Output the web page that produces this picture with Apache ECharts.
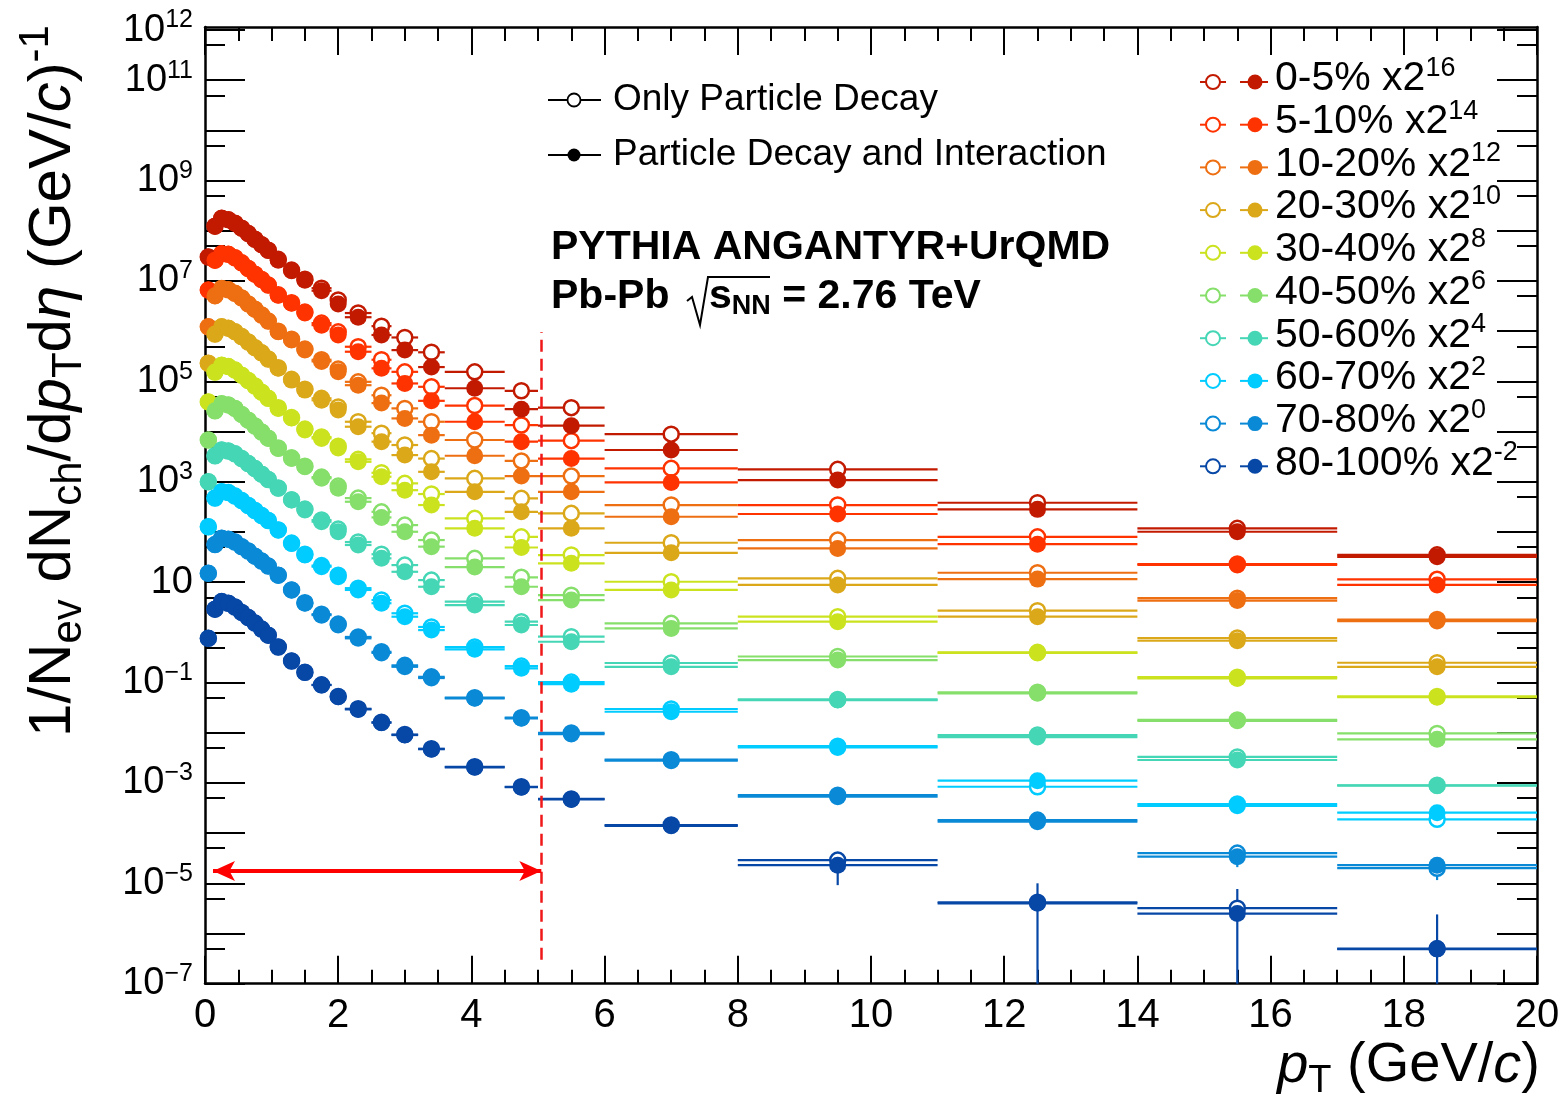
<!DOCTYPE html>
<html style="height: 100%">

<head>
    <meta charset="utf-8">
    <script src="https://cdn.jsdelivr.net/npm/echarts@6.0.0/dist/echarts.min.js"></script>
</head>

<body style="height: 100%; margin: 0; background: #ffffff">
    <div id="main" style="width: 1562px; height: 1106px;"></div>
    <script type="text/javascript">
    // pT bins (GeV/c)
    var ptLow  = [0, 0.1, 0.2, 0.3, 0.4, 0.5, 0.6, 0.7, 0.8, 0.9, 1.0, 1.2, 1.4, 1.6, 1.9, 2.1, 2.5, 2.8, 3.2, 3.6, 4.5, 5, 6, 8, 11, 14, 17];
    var ptHigh = [0.1, 0.2, 0.3, 0.4, 0.5, 0.6, 0.7, 0.8, 0.9, 1.0, 1.2, 1.4, 1.6, 1.9, 2.1, 2.5, 2.8, 3.2, 3.6, 4.5, 5, 6, 8, 11, 14, 17, 20];
    var ptMid  = [0.05, 0.15, 0.25, 0.35, 0.45, 0.55, 0.65, 0.75, 0.85, 0.95, 1.1, 1.3, 1.5, 1.75, 2.0, 2.3, 2.65, 3.0, 3.4, 4.05, 4.75, 5.5, 7, 9.5, 12.5, 15.5, 18.5];

    var centLabels = ['0-5%', '5-10%', '10-20%', '20-30%', '30-40%', '40-50%', '50-60%', '60-70%', '70-80%', '80-100%'];
    var scalePow   = ['16', '14', '12', '10', '8', '6', '4', '2', '0', '-2'];
    var colors     = ['#c21a00', '#ff3300', '#ee6f12', '#dba81a', '#cbe31f', '#86df6a', '#45d6b5', '#00ccff', '#0a8ad6', '#0747a6'];

    // Only Particle Decay (open markers), already scaled
    var decay_0_5    = [3.0e7, 1.24e8, 1.77e8, 1.67e8, 1.42e8, 1.13e8, 8.8e7, 6.8e7, 5.3e7, 4.1e7, 2.7e7, 1.65e7, 1.09e7, 7.2e6, 4.2e6, 2.3e6, 1.26e6, 7.5e5, 3.8e5, 1.55e5, 6.5e4, 3.0e4, 8.9e3, 1.77e3, 382, 118, 35];
    var decay_5_10   = [6.6e6, 2.6e7, 3.5e7, 3.4e7, 2.9e7, 2.3e7, 1.77e7, 1.37e7, 1.07e7, 8.3e6, 5.3e6, 3.7e6, 2.4e6, 1.45e6, 9.7e5, 4.9e5, 2.7e5, 1.55e5, 7.8e4, 3.3e4, 1.35e4, 6.6e3, 1.85e3, 344, 80, 23, 11.4];
    var decay_10_20  = [1.22e6, 5.1e6, 7.1e6, 6.7e6, 5.7e6, 4.6e6, 3.5e6, 2.75e6, 2.1e6, 1.59e6, 1.0e6, 6.9e5, 4.4e5, 2.7e5, 1.76e5, 9.8e4, 5.3e4, 2.9e4, 1.57e4, 6.8e3, 2.6e3, 1.3e3, 344, 69, 15.4, 4.8, 1.8];
    var decay_20_30  = [2.3e5, 8.8e5, 1.22e6, 1.15e6, 9.8e5, 7.8e5, 6.1e5, 4.7e5, 3.7e5, 2.8e5, 1.88e5, 1.1e5, 7.0e4, 4.6e4, 3.1e4, 1.57e4, 9.3e3, 5.4e3, 2.9e3, 1.17e3, 467, 235, 61, 11.9, 2.7, 0.77, 0.248];
    var decay_30_40  = [3.9e4, 1.53e5, 2.1e5, 1.97e5, 1.68e5, 1.33e5, 1.04e5, 8.1e4, 6.1e4, 4.6e4, 3.0e4, 1.9e4, 1.12e4, 7.8e3, 5.1e3, 2.8e3, 1.51e3, 930, 570, 187, 80, 34.7, 10.2, 2.05, 0.40, 0.128, 0.053];
    var decay_40_50  = [6.8e3, 2.6e4, 3.6e4, 3.4e4, 2.9e4, 2.2e4, 1.69e4, 1.29e4, 9.8e3, 7.4e3, 4.7e3, 3.0e3, 2.05e3, 1.24e3, 820, 473, 252, 137, 69, 29.8, 12.5, 5.5, 1.51, 0.33, 0.064, 0.018, 0.0097];
    var decay_50_60  = [1.0e3, 3.3e3, 4.3e3, 4.1e3, 3.6e3, 2.9e3, 2.3e3, 1.83e3, 1.42e3, 1.11e3, 750, 440, 286, 173, 114, 63, 36, 21.9, 11.0, 4.1, 1.63, 0.82, 0.245, 0.046, 0.0090, 0.0033, 9.0e-4];
    var decay_60_70  = [127, 473, 632, 610, 519, 422, 336, 267, 212, 169, 110, 60, 36, 21.4, 13.8, 7.6, 4.4, 2.4, 1.28, 0.51, 0.213, 0.102, 0.0297, 0.0054, 8.4e-4, 3.8e-4, 1.88e-4];
    var decay_70_80  = [15.0, 56, 75, 72, 63, 51, 41.7, 33, 26.3, 20.9, 13.8, 7.0, 3.9, 2.3, 1.46, 0.81, 0.41, 0.22, 0.13, 0.05, 0.020, 0.0099, 0.0029, 5.7e-4, 1.82e-4, 4.0e-5, 2.0e-5];
    var decay_80_100 = [0.76, 2.9, 4.1, 3.8, 3.2, 2.5, 1.97, 1.53, 1.16, 0.88, 0.51, 0.268, 0.16, 0.09, 0.053, 0.03, 0.0162, 0.0092, 0.0048, 0.0021, 8.4e-4, 4.8e-4, 1.45e-4, 2.9e-5, 4.2e-6, 3.2e-6, 5.0e-7];

    // Particle Decay and Interaction (filled markers), already scaled
    var inter_0_5    = [3.0e7, 1.24e8, 1.77e8, 1.67e8, 1.42e8, 1.13e8, 8.8e7, 6.8e7, 5.3e7, 4.1e7, 2.6e7, 1.6e7, 1.04e7, 6.4e6, 3.5e6, 1.9e6, 8.4e5, 4.2e5, 1.93e5, 7.3e4, 2.8e4, 1.31e4, 4.3e3, 1.08e3, 282, 101, 32];
    var inter_5_10   = [6.6e6, 2.6e7, 3.5e7, 3.4e7, 2.9e7, 2.3e7, 1.77e7, 1.37e7, 1.07e7, 8.3e6, 5.2e6, 3.6e6, 2.3e6, 1.32e6, 8.4e5, 3.9e5, 1.82e5, 9.1e4, 4.1e4, 1.57e4, 6.3e3, 2.9e3, 970, 228, 57, 22, 8.8];
    var inter_10_20  = [1.22e6, 5.1e6, 7.1e6, 6.7e6, 5.7e6, 4.6e6, 3.5e6, 2.75e6, 2.1e6, 1.59e6, 9.7e5, 6.7e5, 4.2e5, 2.5e5, 1.55e5, 8.4e4, 3.7e4, 1.83e4, 8.5e3, 3.3e3, 1.3e3, 630, 201, 47, 11.5, 4.3, 1.68];
    var inter_20_30  = [2.3e5, 8.8e5, 1.22e6, 1.15e6, 9.8e5, 7.8e5, 6.1e5, 4.7e5, 3.7e5, 2.8e5, 1.82e5, 1.06e5, 6.7e4, 4.2e4, 2.7e4, 1.25e4, 6.3e3, 3.4e3, 1.58e3, 630, 252, 118, 38.5, 8.8, 2.05, 0.68, 0.206];
    var inter_30_40  = [3.9e4, 1.53e5, 2.1e5, 1.97e5, 1.68e5, 1.33e5, 1.04e5, 8.1e4, 6.1e4, 4.6e4, 2.9e4, 1.86e4, 1.07e4, 7.3e3, 4.7e3, 2.5e3, 1.26e3, 680, 344, 118, 49, 23.7, 7.0, 1.63, 0.39, 0.121, 0.051];
    var inter_40_50  = [6.8e3, 2.6e4, 3.6e4, 3.4e4, 2.9e4, 2.2e4, 1.69e4, 1.29e4, 9.8e3, 7.4e3, 4.6e3, 2.9e3, 1.99e3, 1.17e3, 740, 400, 195, 101, 51, 20, 8.1, 4.4, 1.2, 0.28, 0.061, 0.0173, 0.0074];
    var inter_50_60  = [1.0e3, 3.3e3, 4.3e3, 4.1e3, 3.6e3, 2.9e3, 2.3e3, 1.83e3, 1.42e3, 1.11e3, 740, 432, 273, 160, 101, 55, 29.8, 16.1, 8.1, 3.5, 1.40, 0.65, 0.206, 0.0448, 0.0082, 0.00286, 8.8e-4];
    var inter_60_70  = [127, 473, 632, 610, 519, 422, 336, 267, 212, 169, 109, 59, 34.7, 20.3, 12.8, 7.0, 3.8, 2.05, 1.11, 0.46, 0.192, 0.093, 0.0262, 0.0051, 0.00111, 3.5e-4, 2.55e-4];
    var inter_70_80  = [15.0, 56, 75, 72, 63, 51, 41.7, 33, 26.3, 20.9, 13.8, 7.0, 3.8, 2.2, 1.40, 0.76, 0.39, 0.206, 0.123, 0.0484, 0.0194, 0.0094, 0.00277, 5.3e-4, 1.69e-4, 3.4e-5, 2.3e-5];
    var inter_80_100 = [0.76, 2.9, 4.1, 3.8, 3.2, 2.5, 1.97, 1.53, 1.16, 0.88, 0.51, 0.268, 0.158, 0.089, 0.052, 0.0292, 0.0158, 0.0090, 0.0047, 0.00205, 8.2e-4, 4.7e-4, 1.40e-4, 2.3e-5, 4.0e-6, 2.5e-6, 4.9e-7];

    // vertical stat. errors that stick out of the markers: [pT, low, high]
    var errInter_80_100 = [[9.5, 9.2e-6, 3.6e-5], [12.5, 1e-7, 1.0e-5], [15.5, 1e-7, 7.7e-6], [18.5, 1e-7, 2.4e-6]];
    var errDecay_70_80  = [[15.5, 2.1e-5, 4.0e-5], [18.5, 1.16e-5, 2.0e-5]];

    // axis ticks / labels
    var yDecades = [1e-7, 1e-6, 1e-5, 1e-4, 1e-3, 1e-2, 1e-1, 1, 10, 1e2, 1e3, 1e4, 1e5, 1e6, 1e7, 1e8, 1e9, 1e10, 1e11, 1e12];
    var yHalves  = [5e-7, 5e-6, 5e-5, 5e-4, 5e-3, 5e-2, 0.5, 5, 50, 5e2, 5e3, 5e4, 5e5, 5e6, 5e7, 5e8, 5e9, 5e10, 5e11];
    var yLabelValues = [1e-7, 1e-5, 1e-3, 1e-1, 10, 1e3, 1e5, 1e7, 1e9, 1e11, 1e12];

    // annotations (data units)
    var cutPt = 5.05;
    var cutYRange = [3.0e-7, 9.6e5];
    var arrowY = 1.76e-5;
    var arrowPt = [0.12, 5.05];

    var decaySets = [decay_0_5, decay_5_10, decay_10_20, decay_20_30, decay_30_40, decay_40_50, decay_50_60, decay_60_70, decay_70_80, decay_80_100];
    var interSets = [inter_0_5, inter_5_10, inter_10_20, inter_20_30, inter_30_40, inter_40_50, inter_50_60, inter_60_70, inter_70_80, inter_80_100];

    var FONT = '"Liberation Sans", Arial, Helvetica, sans-serif';

    var myChart = echarts.init(document.getElementById('main'));

    function binBars(vals, color) {
        return {
            type: 'custom',
            z: 1,
            silent: true,
            data: vals.map(function (v, i) { return [ptLow[i], ptHigh[i], v]; }),
            encode: { x: [0, 1], y: 2 },
            renderItem: function (params, api) {
                var a = api.coord([api.value(0), api.value(2)]);
                var b = api.coord([api.value(1), api.value(2)]);
                return {
                    type: 'line',
                    shape: { x1: a[0], y1: a[1], x2: b[0], y2: b[1] },
                    style: { stroke: color, lineWidth: 2.2 }
                };
            }
        };
    }

    function errBars(list, color) {
        return {
            type: 'custom',
            z: 1,
            silent: true,
            data: list,
            encode: { x: 0, y: [1, 2] },
            renderItem: function (params, api) {
                var a = api.coord([api.value(0), api.value(1)]);
                var b = api.coord([api.value(0), api.value(2)]);
                return {
                    type: 'line',
                    shape: { x1: a[0], y1: a[1], x2: b[0], y2: b[1] },
                    style: { stroke: color, lineWidth: 2.2 }
                };
            }
        };
    }

    var series = [];
    for (var k = 0; k < centLabels.length; k++) {
        series.push(binBars(decaySets[k], colors[k]));
        series.push(binBars(interSets[k], colors[k]));
    }
    series.push(errBars(errInter_80_100, colors[9]));
    series.push(errBars(errDecay_70_80, colors[8]));
    for (var k = 0; k < centLabels.length; k++) {
        series.push({
            name: centLabels[k] + ' decay',
            type: 'scatter',
            z: 2,
            silent: true,
            symbol: 'circle',
            symbolSize: 15,
            data: decaySets[k].map(function (v, i) { return [ptMid[i], v]; }),
            itemStyle: { color: '#ffffff', borderColor: colors[k], borderWidth: 2.5, opacity: 1 }
        });
    }
    for (var k = 0; k < centLabels.length; k++) {
        series.push({
            name: centLabels[k] + ' decay+interaction',
            type: 'scatter',
            z: 3,
            silent: true,
            symbol: 'circle',
            symbolSize: 17,
            data: interSets[k].map(function (v, i) { return [ptMid[i], v]; }),
            itemStyle: { color: colors[k], opacity: 1 }
        });
    }
    // red cut line and arrow
    series.push({
        type: 'scatter',
        z: 4,
        silent: true,
        data: [],
        markLine: {
            silent: true,
            animation: false,
            symbol: ['none', 'none'],
            label: { show: false },
            emphasis: { disabled: true },
            data: [
                [
                    { coord: [cutPt, cutYRange[0]], lineStyle: { color: '#f01818', width: 2.5, type: [12, 7] } },
                    { coord: [cutPt, cutYRange[1]] }
                ],
                [
                    { coord: [arrowPt[0], arrowY], symbol: 'arrow', symbolSize: [15, 22], lineStyle: { color: '#ff0000', width: 4, type: 'solid' } },
                    { coord: [arrowPt[1], arrowY], symbol: 'arrow', symbolSize: [15, 22] }
                ]
            ]
        }
    });

    function yAxisDef(pos, ticks, len, showLine, showLabel) {
        return {
            type: 'log',
            logBase: 10,
            min: 1e-7,
            max: 1.15e12,
            position: pos,
            axisLine: { show: showLine, onZero: false, lineStyle: { color: '#000', width: 2.5 } },
            axisTick: { show: true, inside: true, length: len, customValues: ticks, lineStyle: { color: '#000', width: 2 } },
            minorTick: { show: false },
            splitLine: { show: false },
            axisLabel: showLabel ? {
                customValues: yLabelValues,
                margin: 12,
                color: '#000',
                fontFamily: FONT,
                formatter: function (v) {
                    var e = Math.round(Math.log(v) / Math.LN10);
                    if (e === 1) return '{b|10}';
                    return '{b|10}{s|' + (e < 0 ? '\u2212' + (-e) : e) + '}';
                },
                rich: {
                    b: { fontSize: 38, fontFamily: FONT, color: '#000', lineHeight: 44, verticalAlign: 'middle' },
                    s: { fontSize: 25, fontFamily: FONT, color: '#000', lineHeight: 26, verticalAlign: 'top' }
                }
            } : { show: false }
        };
    }

    function xAxisDef(pos, showLabel) {
        return {
            type: 'value',
            min: 0,
            max: 20,
            interval: 2,
            position: pos,
            axisLine: { show: true, onZero: false, lineStyle: { color: '#000', width: 2.5 } },
            axisTick: { show: true, inside: true, length: 28, lineStyle: { color: '#000', width: 2 } },
            minorTick: { show: true, splitNumber: 4, length: 14, lineStyle: { color: '#000', width: 2 } },
            splitLine: { show: false },
            axisLabel: showLabel ? { fontSize: 40, fontFamily: FONT, color: '#000', margin: 12 } : { show: false }
        };
    }

    // legend and text
    var graphics = [];
    var legX = 1200, legTop = 82, legStep = 42.7;
    for (var k = 0; k < centLabels.length; k++) {
        var y = legTop + k * legStep;
        graphics.push({ type: 'line', shape: { x1: legX, y1: y, x2: legX + 26, y2: y }, style: { stroke: colors[k], lineWidth: 2 } });
        graphics.push({ type: 'circle', shape: { cx: legX + 13, cy: y, r: 7 }, style: { fill: '#fff', stroke: colors[k], lineWidth: 2 } });
        graphics.push({ type: 'line', shape: { x1: legX + 40, y1: y, x2: legX + 68, y2: y }, style: { stroke: colors[k], lineWidth: 2 } });
        graphics.push({ type: 'circle', shape: { cx: legX + 55, cy: y, r: 7.5 }, style: { fill: colors[k] } });
        graphics.push({
            type: 'text', x: legX + 75, y: y - 3,
            style: {
                text: '{m|' + centLabels[k] + ' x2}{s|' + scalePow[k] + '}',
                align: 'left', verticalAlign: 'middle', fill: '#000',
                rich: {
                    m: { fontSize: 41, fontFamily: FONT, fill: '#000', lineHeight: 48, verticalAlign: 'middle' },
                    s: { fontSize: 27, fontFamily: FONT, fill: '#000', lineHeight: 27, verticalAlign: 'top' }
                }
            }
        });
    }
    // marker-type legend
    var typeRows = [[100, 'Only Particle Decay', false], [155, 'Particle Decay and Interaction', true]];
    typeRows.forEach(function (r) {
        graphics.push({ type: 'line', shape: { x1: 548, y1: r[0], x2: 601, y2: r[0] }, style: { stroke: '#000', lineWidth: 2 } });
        graphics.push({ type: 'circle', shape: { cx: 574, cy: r[0], r: 6.5 }, style: r[2] ? { fill: '#000' } : { fill: '#fff', stroke: '#000', lineWidth: 1.8 } });
        graphics.push({ type: 'text', x: 613, y: r[0], style: { text: r[1], align: 'left', verticalAlign: 'middle', fill: '#000', font: '37px ' + FONT } });
    });
    graphics.push({ type: 'text', x: 551, y: 248, style: { text: 'PYTHIA ANGANTYR+UrQMD', align: 'left', verticalAlign: 'middle', fill: '#000', font: 'bold 41px ' + FONT } });
    graphics.push({ type: 'text', x: 551, y: 297, style: { text: 'Pb-Pb', align: 'left', verticalAlign: 'middle', fill: '#000', font: 'bold 41px ' + FONT } });
    graphics.push({ type: 'polyline', shape: { points: [[687, 301], [692, 297], [700, 325], [708, 277], [770, 277]] }, style: { stroke: '#000', lineWidth: 2, fill: null } });
    graphics.push({
        type: 'text', x: 709, y: 297,
        style: {
            text: '{b|s}{n|NN}{b| = 2.76 TeV}', align: 'left', verticalAlign: 'middle', fill: '#000',
            rich: {
                b: { fontSize: 41, fontWeight: 'bold', fontFamily: FONT, fill: '#000', lineHeight: 46, verticalAlign: 'middle' },
                n: { fontSize: 27, fontWeight: 'bold', fontFamily: FONT, fill: '#000', lineHeight: 27, verticalAlign: 'bottom' }
            }
        }
    });
    // axis titles
    var titleRich = {
        m: { fontSize: 60, fontFamily: FONT, fill: '#000', lineHeight: 75, verticalAlign: 'middle' },
        i: { fontSize: 60, fontFamily: FONT, fontStyle: 'italic', fill: '#000', lineHeight: 75, verticalAlign: 'middle' },
        sub: { fontSize: 42, fontFamily: FONT, fill: '#000', lineHeight: 43, verticalAlign: 'bottom' },
        sup: { fontSize: 42, fontFamily: FONT, fill: '#000', lineHeight: 43, verticalAlign: 'top' }
    };
    var xTitleRich = {
        m: { fontSize: 56, fontFamily: FONT, fill: '#000', lineHeight: 70, verticalAlign: 'middle' },
        i: { fontSize: 56, fontFamily: FONT, fontStyle: 'italic', fill: '#000', lineHeight: 70, verticalAlign: 'middle' },
        sub: { fontSize: 38, fontFamily: FONT, fill: '#000', lineHeight: 40, verticalAlign: 'bottom' }
    };
    graphics.push({
        type: 'text', x: 53, y: 381, rotation: Math.PI / 2,
        style: {
            text: '{m|1/N}{sub|ev}{m| dN}{sub|ch}{m|/d}{i|p}{sub|T}{m|d}{i|\u03b7}{m| (GeV/}{i|c}{m|)}{sup|-1}',
            align: 'center', verticalAlign: 'middle', fill: '#000', rich: titleRich
        }
    });
    graphics.push({
        type: 'text', x: 1540, y: 1066,
        style: {
            text: '{i|p}{sub|T}{m| (GeV/}{i|c}{m|)}',
            align: 'right', verticalAlign: 'middle', fill: '#000', rich: xTitleRich
        }
    });

    var option = {
        animation: false,
        backgroundColor: '#ffffff',
        grid: { left: 205, top: 27, width: 1332, height: 956.7, containLabel: false, outerBoundsMode: 'none' },
        xAxis: [xAxisDef('bottom', true), xAxisDef('top', false)],
        yAxis: [
            yAxisDef('left', yDecades, 40, true, true),
            yAxisDef('left', yHalves, 20, false, false),
            yAxisDef('right', yDecades, 40, true, false),
            yAxisDef('right', yHalves, 20, false, false)
        ],
        series: series,
        graphic: { elements: graphics }
    };
    myChart.setOption(option);
    </script>

</body>

</html>
